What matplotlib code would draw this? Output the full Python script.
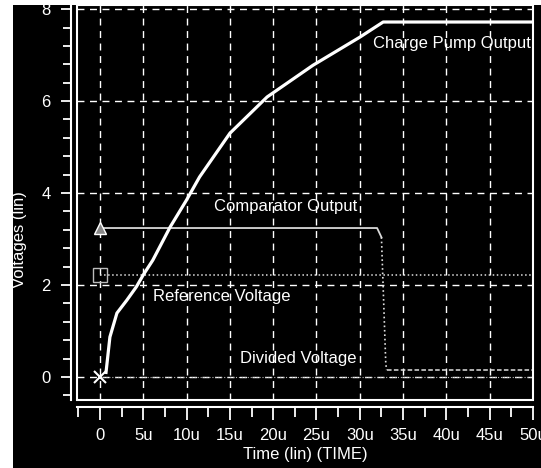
import numpy as np
import matplotlib.pyplot as plt
from matplotlib.patches import Rectangle
from matplotlib.ticker import MultipleLocator, FixedLocator, FixedFormatter

plt.rcParams['font.family'] = ['Liberation Sans', 'DejaVu Sans']

# time in microseconds
pump_t = [0.7, 1.15, 1.96, 3.1, 4.2, 5.0, 6.1, 8.1, 10.0, 11.5, 15.0, 19.3, 24.6, 30.0, 32.7, 50.0]
pump_v = [0.10, 0.87, 1.39, 1.67, 1.96, 2.22, 2.54, 3.26, 3.85, 4.35, 5.30, 6.09, 6.78, 7.39, 7.72, 7.72]

comp_t = [0.0, 32.0, 32.5, 32.6, 33.0, 33.1, 50.0]
comp_v = [3.24, 3.24, 3.04, 2.5, 0.3, 0.15, 0.15]

ref_t = [0.0, 50.0]
ref_v = [2.22, 2.22]

div_t = [0.0, 50.0]
div_v = [0.0, 0.0]

xticks = [0, 5, 10, 15, 20, 25, 30, 35, 40, 45, 50]
xlabels = ["0", "5u", "10u", "15u", "20u", "25u", "30u", "35u", "40u", "45u", "50u"]
yticks = [0, 2, 4, 6, 8]

W, H = 541, 468
fig = plt.figure(figsize=(W / 100, H / 100), dpi=100, facecolor='black')
ax = fig.add_axes([77 / W, 1 - 400 / H, (533 - 77) / W, (400 - 5) / H])
ax.set_facecolor('black')

# white margin strips
fig.patches.append(Rectangle((0, 0), 13 / W, 1, transform=fig.transFigure,
                             facecolor='white', edgecolor='none', zorder=10))
fig.patches.append(Rectangle((0, 1 - 5 / H), 1, 5 / H, transform=fig.transFigure,
                             facecolor='white', edgecolor='none', zorder=10))

ax.set_xlim(-2.65, 50)
ax.set_ylim(-0.5, 8.09)

# grid
for x in xticks:
    ax.axvline(x, color='white', lw=1, dashes=(5, 4), zorder=1)
for y in yticks:
    ax.axhline(y, color='white', lw=1, dashes=(5, 4), zorder=1)

# traces
ax.plot(pump_t, pump_v, color='white', lw=2.3, zorder=5)
ax.plot(comp_t[:3], comp_v[:3], color='#d8d8d8', lw=1.3, zorder=4)
ax.plot(comp_t[2:6], comp_v[2:6], color='#e0e0e0', lw=1.2, ls=':', zorder=4)
ax.plot(comp_t[5:], comp_v[5:], color='#e0e0e0', lw=1.1, dashes=(3, 1.5), zorder=4)
ax.plot(ref_t, ref_v, color='#e0e0e0', lw=1.1, ls=':', zorder=4)
ax.plot(div_t, div_v, color='#bbbbbb', lw=0.8, ls=':', zorder=3)

ax.plot([0], [3.24], marker='^', ms=9, mfc='#888888', mec='white', mew=1, zorder=6)
ax.plot([0], [2.22], marker='s', ms=10, mfc='none', mec='#bbbbbb', mew=1, zorder=6)
ax.plot([0], [0.0], marker='x', ms=9, mec='white', mew=1.5, zorder=6)

txt = dict(color='white', fontsize=12, zorder=7)
ax.text(31.5, 7.25, "Charge Pump Output", ha='left', va='center', **txt)
ax.text(21.4, 3.7, "Comparator Output", ha='center', va='center', **txt)
ax.text(6.1, 1.75, "Reference Voltage", ha='left', va='center', **txt)
ax.text(16.2, 0.4, "Divided Voltage", ha='left', va='center', **txt)

# frame
ax.add_patch(Rectangle((0, 0), 1, 1, transform=ax.transAxes, fill=False,
                       edgecolor='white', lw=1.5, clip_on=False, zorder=8))

for s in ['top', 'right']:
    ax.spines[s].set_visible(False)
ax.spines['left'].set_position(('outward', 4))
ax.spines['bottom'].set_position(('outward', 5))
ax.spines['left'].set_color('white')
ax.spines['bottom'].set_color('white')
ax.spines['left'].set_linewidth(1.5)
ax.spines['bottom'].set_linewidth(1.5)

ax.xaxis.set_major_locator(FixedLocator(xticks))
ax.xaxis.set_major_formatter(FixedFormatter(xlabels))
ax.xaxis.set_minor_locator(MultipleLocator(2.5))
ax.yaxis.set_major_locator(FixedLocator(yticks))
ax.yaxis.set_minor_locator(MultipleLocator(0.4))

ax.tick_params(axis='both', which='both', colors='white', direction='out', width=1.3)
ax.tick_params(axis='x', which='major', length=9, pad=6, labelsize=12)
ax.tick_params(axis='x', which='minor', length=7)
ax.tick_params(axis='y', which='major', length=7, pad=8, labelsize=12)
ax.tick_params(axis='y', which='minor', length=6)

fig.text(20 / W, 1 - 240 / H, "Voltages (lin)", rotation=90, ha='center', va='center',
         color='white', fontsize=12)
fig.text(305 / W, 1 - 455 / H, "Time (lin) (TIME)", ha='center', va='center',
         color='white', fontsize=12)

fig.savefig('out.png', dpi=100, facecolor='black')
